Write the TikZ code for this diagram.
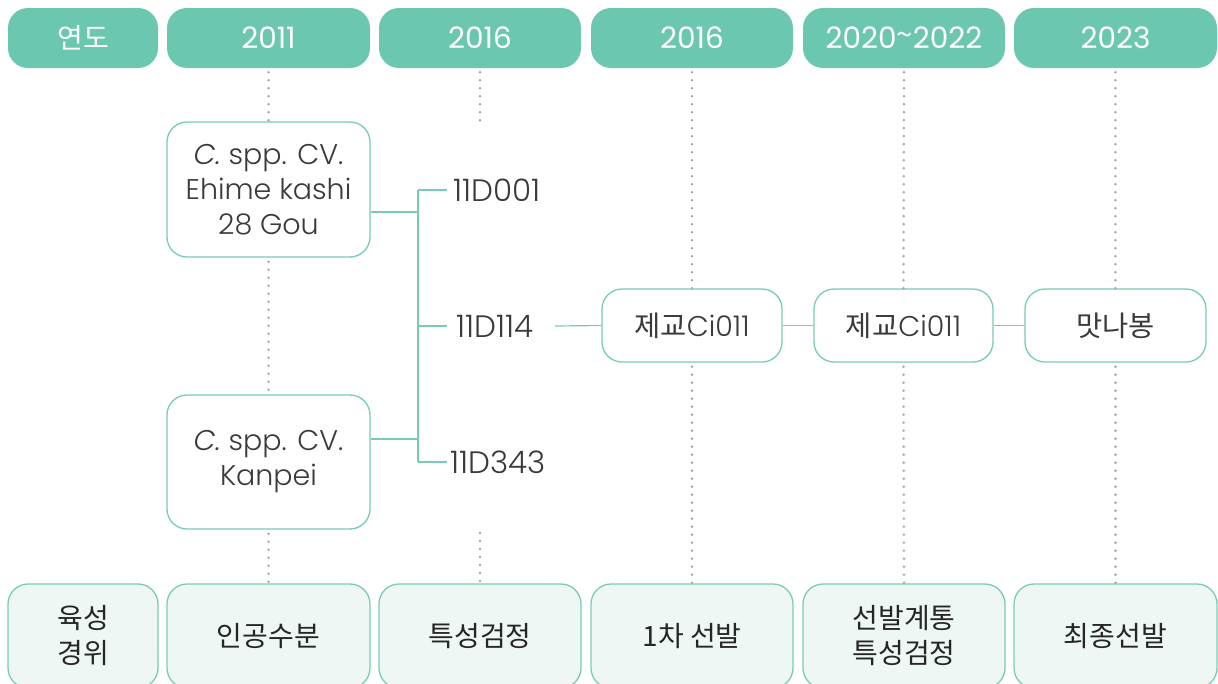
\documentclass[tikz,border=0pt]{standalone}
\usepackage{fontspec}
\setmainfont{Poppins}[UprightFont={* Light}, ItalicFont={* Light Italic}]
\newfontfamily\hdrfont{Poppins}
\newfontfamily\kr{Noto Sans CJK KR}
\definecolor{mint}{HTML}{6CC7B0}
\definecolor{mintline}{HTML}{78CCB6}
\definecolor{mintfill}{HTML}{EEF7F4}
\definecolor{dotgray}{HTML}{A8A8A8}
\definecolor{txt}{HTML}{3A3A3A}
\begin{document}
\begin{tikzpicture}[x=1pt,y=-1pt,
  hdr/.style={fill=mint, draw=none, rounded corners=20pt, minimum height=60pt, text=white, font=\hdrfont\fontsize{29.5}{32}\selectfont, inner sep=0pt},
  btm/.style={fill=mintfill, draw=mintline, line width=1.3pt, rounded corners=20pt, minimum height=104pt, text=black!85, font=\kr\fontsize{28}{35}\selectfont, align=center, inner sep=0pt},
  box/.style={fill=white, draw=mintline, line width=1.3pt, rounded corners=20pt, text=txt, font=\fontsize{28.5}{35}\selectfont, align=center, inner sep=0pt},
  lbl/.style={text=txt, font=\fontsize{31}{34}\selectfont, inner sep=0pt, anchor=west},
  link/.style={draw=mintline, line width=1.2pt},
  dots/.style={draw=dotgray, line width=2.8pt, line cap=round, dash pattern=on 0pt off 8pt, dash phase=4pt}
]
\useasboundingbox (0,0) rectangle (1218,683);
% headers
\node[hdr, minimum width=150pt] (h0) at (83,38) {\kr\fontsize{28}{30}\selectfont 연도};
\node[hdr, minimum width=203pt] (h1) at (268.5,38) {2011};
\node[hdr, minimum width=202pt] (h2) at (480,38) {2016};
\node[hdr, minimum width=202pt] (h3) at (692,38) {2016};
\node[hdr, minimum width=202pt] (h4) at (904,38) {2020\raisebox{0.1em}{\kr\textasciitilde}2022};
\node[hdr, minimum width=203pt] (h5) at (1115.5,38) {2023};
% bottom row
\node[btm, minimum width=150pt] (b0) at (83,636) {육성\\경위};
\node[btm, minimum width=203pt] (b1) at (268.5,636) {인공수분};
\node[btm, minimum width=202pt] (b2) at (480,636) {특성검정};
\node[btm, minimum width=202pt] (b3) at (692,636) {1차 선발};
\node[btm, minimum width=202pt] (b4) at (904,636) {선발계통\\특성검정};
\node[btm, minimum width=203pt] (b5) at (1115.5,636) {최종선발};
% middle boxes
\node[box, minimum width=203pt, minimum height=135pt] (ehime) at (268.5,189.5) {\textit{C.} spp. CV.\\Ehime kashi\\28 Gou};
\node[box, minimum width=203pt, minimum height=134pt] (kanpei) at (268.5,462) {\textit{C.} spp. CV.\\Kanpei};
\node[box, minimum width=180pt, minimum height=73pt] (c1) at (692,325.5) {{\kr 제교}Ci011};
\node[box, minimum width=179pt, minimum height=73pt] (c2) at (903.5,325.5) {{\kr 제교}Ci011};
\node[box, minimum width=181pt, minimum height=73pt] (c3) at (1115.5,325.5) {\kr 맛나봉};
% labels
\node[lbl] (d001) at (453,190) {11D001};
\node[lbl] (d114) at (456,326) {11D114};
\node[lbl] (d343) at (450,462) {11D343};
% junction coordinates
\coordinate (jA) at (418,212);
\coordinate (jB) at (418,439);
\coordinate (jT) at (418,190);
\coordinate (jM) at (418,326);
\coordinate (jD) at (418,462);
\coordinate (g2a) at (480,122);
\coordinate (g2b) at (480,529);
\coordinate (k114) at (555,326);
% connectors
\draw[link] (ehime.east |- jA) -- (jA);
\draw[link] (kanpei.east |- jB) -- (jB);
\draw[link] (jT) -- (jD);
\draw[link] (jT) -- ([xshift=-6pt]d001.west);
\draw[link] (jM) -- ([xshift=-9pt]d114.west);
\draw[link] (jD) -- ([xshift=-3pt]d343.west);
\draw[link] (k114) -- (c1.west);
\draw[link] (c1.east) -- (c2.west);
\draw[link] (c2.east) -- (c3.west);
% dotted guides
\draw[dots] (h1.south) -- (ehime.north);
\draw[dots] (ehime.south) -- (kanpei.north);
\draw[dots] (kanpei.south) -- (b1.north);
\draw[dots] (h2.south) -- (g2a);
\draw[dots] (g2b) -- (b2.north);
\draw[dots] (h3.south) -- (c1.north);
\draw[dots] (c1.south) -- (b3.north);
\draw[dots] (h4.south) -- (c2.north);
\draw[dots] (c2.south) -- (b4.north);
\draw[dots] (h5.south) -- (c3.north);
\draw[dots] (c3.south) -- (b5.north);
\end{tikzpicture}
\end{document}
